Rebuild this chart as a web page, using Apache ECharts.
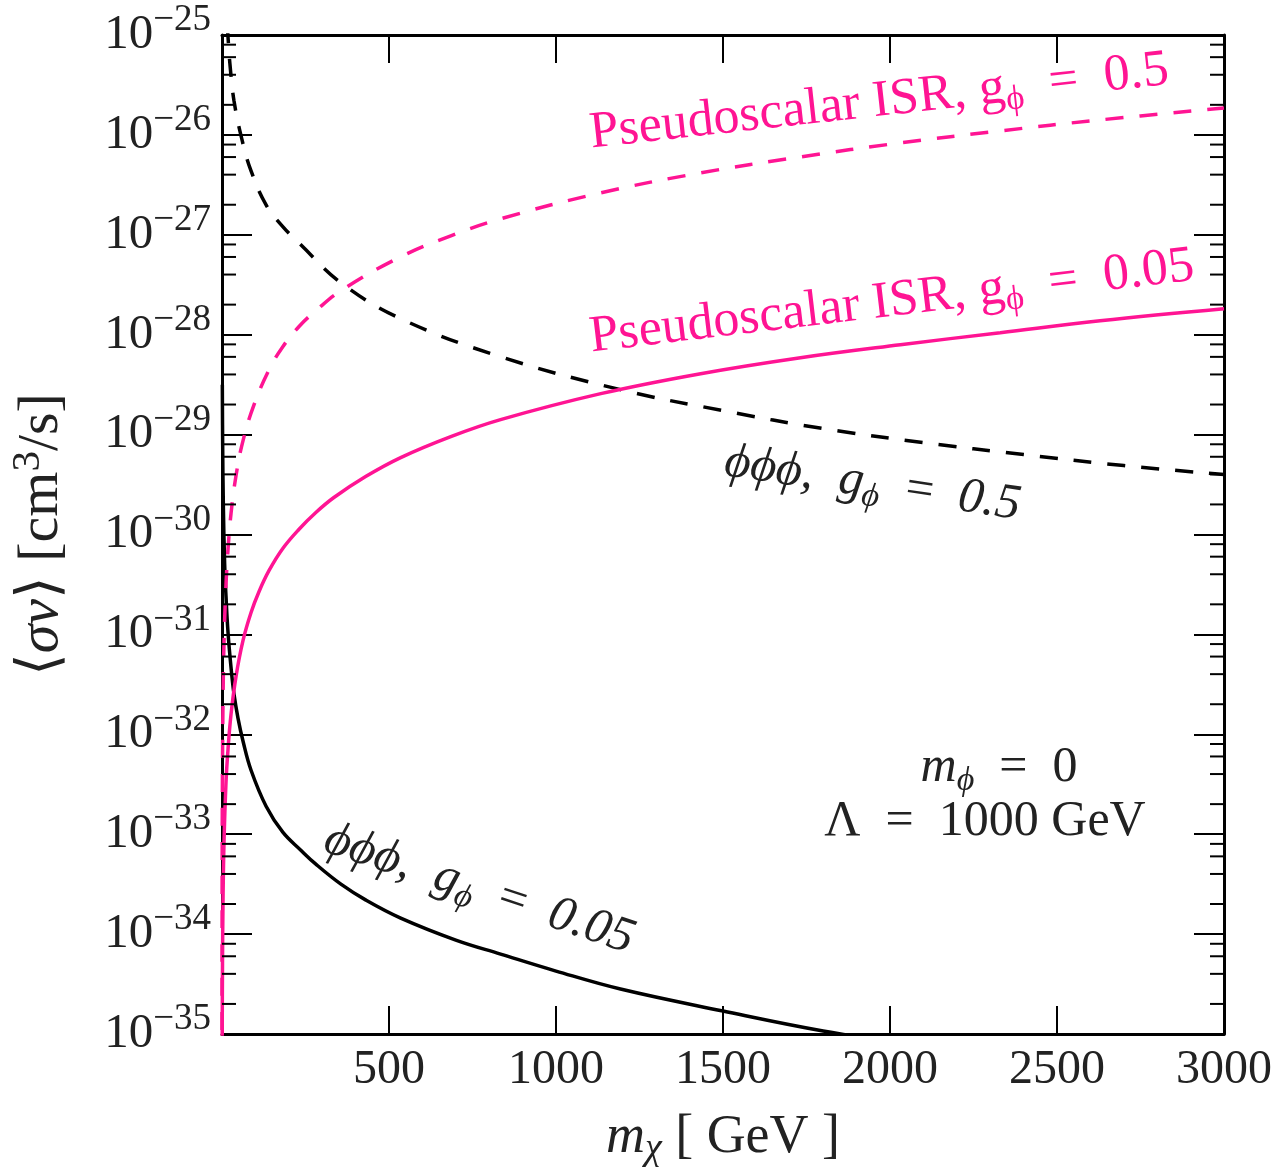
<!DOCTYPE html>
<html><head><meta charset="utf-8">
<script src="https://cdn.jsdelivr.net/npm/echarts@6/dist/echarts.min.js"></script>
<style>html,body{margin:0;padding:0;background:#fff}#chart{width:1280px;height:1173px}</style>
</head><body><div id="chart"></div>
<script>
// Dark-matter mass m_chi (GeV) and log10 of <sigma v> (cm^3/s)
const mPhiPhiPhiG05 = [16, 18, 24, 36, 60, 87, 132, 180, 236, 356, 535, 834, 1193, 1500, 1800, 2100, 2400, 2700, 3000];
const logPhiPhiPhiG05 = [-24.9, -25.02, -25.3, -25.66, -26.05, -26.36, -26.7, -26.91, -27.1, -27.48, -27.84, -28.22, -28.55, -28.76, -28.94, -29.08, -29.2, -29.31, -29.4];

const mPhiPhiPhiG005 = [1, 2, 4, 8, 12, 18, 27, 36, 48, 63, 87, 132, 182, 236, 281, 356, 431, 535, 700, 834, 1000, 1193, 1500, 1800, 2100];
const logPhiPhiPhiG005 = [-28.5, -29.1, -29.7, -30.3, -30.62, -30.98, -31.33, -31.6, -31.84, -32.07, -32.36, -32.72, -32.98, -33.16, -33.3, -33.5, -33.66, -33.84, -34.06, -34.2, -34.37, -34.55, -34.77, -34.97, -35.13];

const mIsrG05 = [0.05, 0.1, 0.3, 0.7, 1.5, 3, 6, 12, 18, 27, 42, 63, 96, 141, 182, 230, 281, 356, 535, 685, 834, 1134, 1433, 1732, 2031, 2330, 2629, 3000];
const logIsrG05 = [-35.3, -34.65, -33.7, -32.95, -32.3, -31.68, -31.08, -30.5, -30.15, -29.79, -29.41, -29.06, -28.7, -28.35, -28.12, -27.92, -27.76, -27.56, -27.22, -27.01, -26.84, -26.58, -26.38, -26.22, -26.08, -25.96, -25.85, -25.73];

const mIsrG005 = [0.3, 0.7, 1.5, 3, 6, 12, 18, 27, 42, 63, 87, 111, 141, 182, 230, 281, 335, 430, 535, 685, 834, 1134, 1433, 1732, 2031, 2330, 2629, 3000];
const logIsrG005 = [-35.7, -34.95, -34.3, -33.68, -33.08, -32.48, -32.15, -31.8, -31.42, -31.06, -30.78, -30.57, -30.36, -30.14, -29.95, -29.78, -29.63, -29.42, -29.23, -29.02, -28.85, -28.59, -28.39, -28.23, -28.1, -27.98, -27.86, -27.74];

// axis settings (y axis is drawn in log10 units: one tick per decade)
const xMin = 0, xMax = 3000, xTickStep = 500;
const yMinExp = -35, yMaxExp = -25, yTickStep = 1;
const minorMultipliers = [2, 4, 6, 8];

const PINK = '#ff1493';
const INK = '#222';
const SERIF = '"Liberation Serif", "DejaVu Serif", serif';
const SP = '\u2002';

function toData(ms, logs) { return ms.map((m, i) => [m, logs[i]]); }

const minorTickData = [];
for (let d = yMinExp; d < yMaxExp; d += yTickStep) {
  minorMultipliers.forEach(k => minorTickData.push([xMin, d + Math.log10(k)]));
}

const chart = echarts.init(document.getElementById('chart'), null, {renderer: 'canvas'});

const tickLabelRich = {
  b: {fontFamily: SERIF, fontSize: 49, color: INK, lineHeight: 66},
  e: {fontFamily: SERIF, fontSize: 37, color: INK, lineHeight: 38, verticalAlign: 'top'}
};
const frameLine = {show: true, onZero: false, lineStyle: {color: '#000', width: 3}};

function mathRich(color, size) {
  const sub = Math.round(size * 0.68);
  return {
    i: {fontFamily: SERIF, fontStyle: 'italic', fontSize: size, fill: color, lineHeight: 60},
    a: {fontFamily: SERIF, fontSize: size, fill: color, lineHeight: 60},
    s: {fontFamily: SERIF, fontStyle: 'italic', fontSize: sub, fill: color, lineHeight: 36, verticalAlign: 'bottom'},
    r: {fontFamily: SERIF, fontSize: sub, fill: color, lineHeight: 36, verticalAlign: 'bottom'}
  };
}

const option = {
  backgroundColor: '#fff',
  animation: false,
  grid: {left: 221, right: 56, top: 35, bottom: 138, containLabel: false},
  xAxis: [{
    type: 'value', min: xMin, max: xMax, interval: xTickStep, position: 'bottom',
    axisLine: frameLine,
    axisTick: {show: true, inside: true, length: 28, lineStyle: {color: '#000', width: 2}},
    axisLabel: {show: true, showMinLabel: false, margin: 12, fontFamily: SERIF, fontSize: 48, color: INK,
      formatter: v => String(v)},
    splitLine: {show: false},
    name: '{i|m}{s|χ}{r| [ GeV ]}', nameLocation: 'middle', nameGap: 74,
    nameTextStyle: {rich: {
      i: {fontFamily: SERIF, fontStyle: 'italic', fontSize: 54, color: INK, lineHeight: 60},
      s: {fontFamily: SERIF, fontStyle: 'italic', fontSize: 38, color: INK, lineHeight: 40, verticalAlign: 'bottom'},
      r: {fontFamily: SERIF, fontSize: 54, color: INK, lineHeight: 60}
    }}
  }, {
    type: 'value', min: xMin, max: xMax, interval: xTickStep, position: 'top',
    axisLine: frameLine,
    axisTick: {show: true, inside: true, length: 28, lineStyle: {color: '#000', width: 2}},
    axisLabel: {show: false}, splitLine: {show: false}
  }],
  yAxis: [{
    type: 'value', min: yMinExp, max: yMaxExp, interval: yTickStep, position: 'left',
    axisLine: frameLine,
    axisTick: {show: true, inside: true, length: 30, lineStyle: {color: '#000', width: 2}},
    axisLabel: {show: true, margin: 11, rich: tickLabelRich,
      formatter: v => '{b|10}{e|−' + Math.abs(Math.round(v)) + '}'},
    splitLine: {show: false},
    name: '{a|⟨}{i|σv}{a|⟩ [cm}{s|3}{a|/s]}', nameLocation: 'middle', nameGap: 146, nameRotate: 90,
    nameTextStyle: {rich: {
      a: {fontFamily: SERIF, fontSize: 58, color: INK, lineHeight: 68},
      i: {fontFamily: SERIF, fontStyle: 'italic', fontSize: 58, color: INK, lineHeight: 68},
      s: {fontFamily: SERIF, fontSize: 41, color: INK, lineHeight: 42, verticalAlign: 'top'}
    }}
  }, {
    type: 'value', min: yMinExp, max: yMaxExp, interval: yTickStep, position: 'right',
    axisLine: frameLine,
    axisTick: {show: true, inside: true, length: 30, lineStyle: {color: '#000', width: 2}},
    axisLabel: {show: false}, splitLine: {show: false}
  }],
  series: [
    {
      type: 'custom', name: 'minorTicks', silent: true, xAxisIndex: 0, yAxisIndex: 0, z: 5,
      data: minorTickData,
      renderItem: function (params, api) {
        const v = api.value(1);
        const pl = api.coord([xMin, v]);
        const pr = api.coord([xMax, v]);
        const st = {stroke: '#000', lineWidth: 2};
        return {type: 'group', children: [
          {type: 'line', shape: {x1: pl[0], y1: pl[1], x2: pl[0] + 14, y2: pl[1]}, style: st},
          {type: 'line', shape: {x1: pr[0] - 14, y1: pr[1], x2: pr[0], y2: pr[1]}, style: st}
        ]};
      }
    },
    {type: 'line', name: 'phiphiphi g0.5', data: toData(mPhiPhiPhiG05, logPhiPhiPhiG05), showSymbol: false, smooth: 0.4,
      clip: true, lineStyle: {color: '#000', width: 3.5, type: [18, 16]}, z: 3},
    {type: 'line', name: 'phiphiphi g0.05', data: toData(mPhiPhiPhiG005, logPhiPhiPhiG005), showSymbol: false, smooth: 0.4,
      clip: true, lineStyle: {color: '#000', width: 3.5}, z: 3},
    {type: 'line', name: 'ISR g0.5', data: toData(mIsrG05, logIsrG05), showSymbol: false, smooth: 0.4,
      clip: true, lineStyle: {color: PINK, width: 3.5, type: [18, 16]}, z: 4},
    {type: 'line', name: 'ISR g0.05', data: toData(mIsrG005, logIsrG005), showSymbol: false, smooth: 0.4,
      clip: true, lineStyle: {color: PINK, width: 3.5}, z: 4}
  ],
  graphic: [
    {type: 'text', x: 590, y: 134, rotation: 6.3 * Math.PI / 180, z: 10,
      style: {text: '{a|Pseudoscalar ISR, g}{r|ϕ}{a|' + SP + '=' + SP + '0.5}', align: 'left', verticalAlign: 'middle',
        rich: mathRich(PINK, 52)}},
    {type: 'text', x: 590, y: 338, rotation: 6.8 * Math.PI / 180, z: 10,
      style: {text: '{a|Pseudoscalar ISR, g}{r|ϕ}{a|' + SP + '=' + SP + '0.05}', align: 'left', verticalAlign: 'middle',
        rich: mathRich(PINK, 52)}},
    {type: 'text', x: 725, y: 462, rotation: -8.5 * Math.PI / 180, z: 10,
      style: {text: '{i|ϕϕϕ,' + SP + 'g}{s|ϕ}{a|' + SP + '=' + SP + '}{i|0.5}', align: 'left', verticalAlign: 'middle',
        rich: mathRich(INK, 50)}},
    {type: 'text', x: 326, y: 838, rotation: -18.5 * Math.PI / 180, z: 10,
      style: {text: '{i|ϕϕϕ,' + SP + 'g}{s|ϕ}{a|' + SP + '=' + SP + '}{i|0.05}', align: 'left', verticalAlign: 'middle',
        rich: mathRich(INK, 50)}},
    {type: 'text', x: 999, y: 768, z: 10,
      style: {text: '{i|m}{s|ϕ}{a|' + SP + '=' + SP + '0}', align: 'center', verticalAlign: 'middle',
        rich: mathRich(INK, 50)}},
    {type: 'text', x: 985, y: 822, z: 10,
      style: {text: '{a|Λ' + SP + '=' + SP + '1000 GeV}', align: 'center', verticalAlign: 'middle',
        rich: mathRich(INK, 50)}}
  ]
};
chart.setOption(option);
</script></body></html>
